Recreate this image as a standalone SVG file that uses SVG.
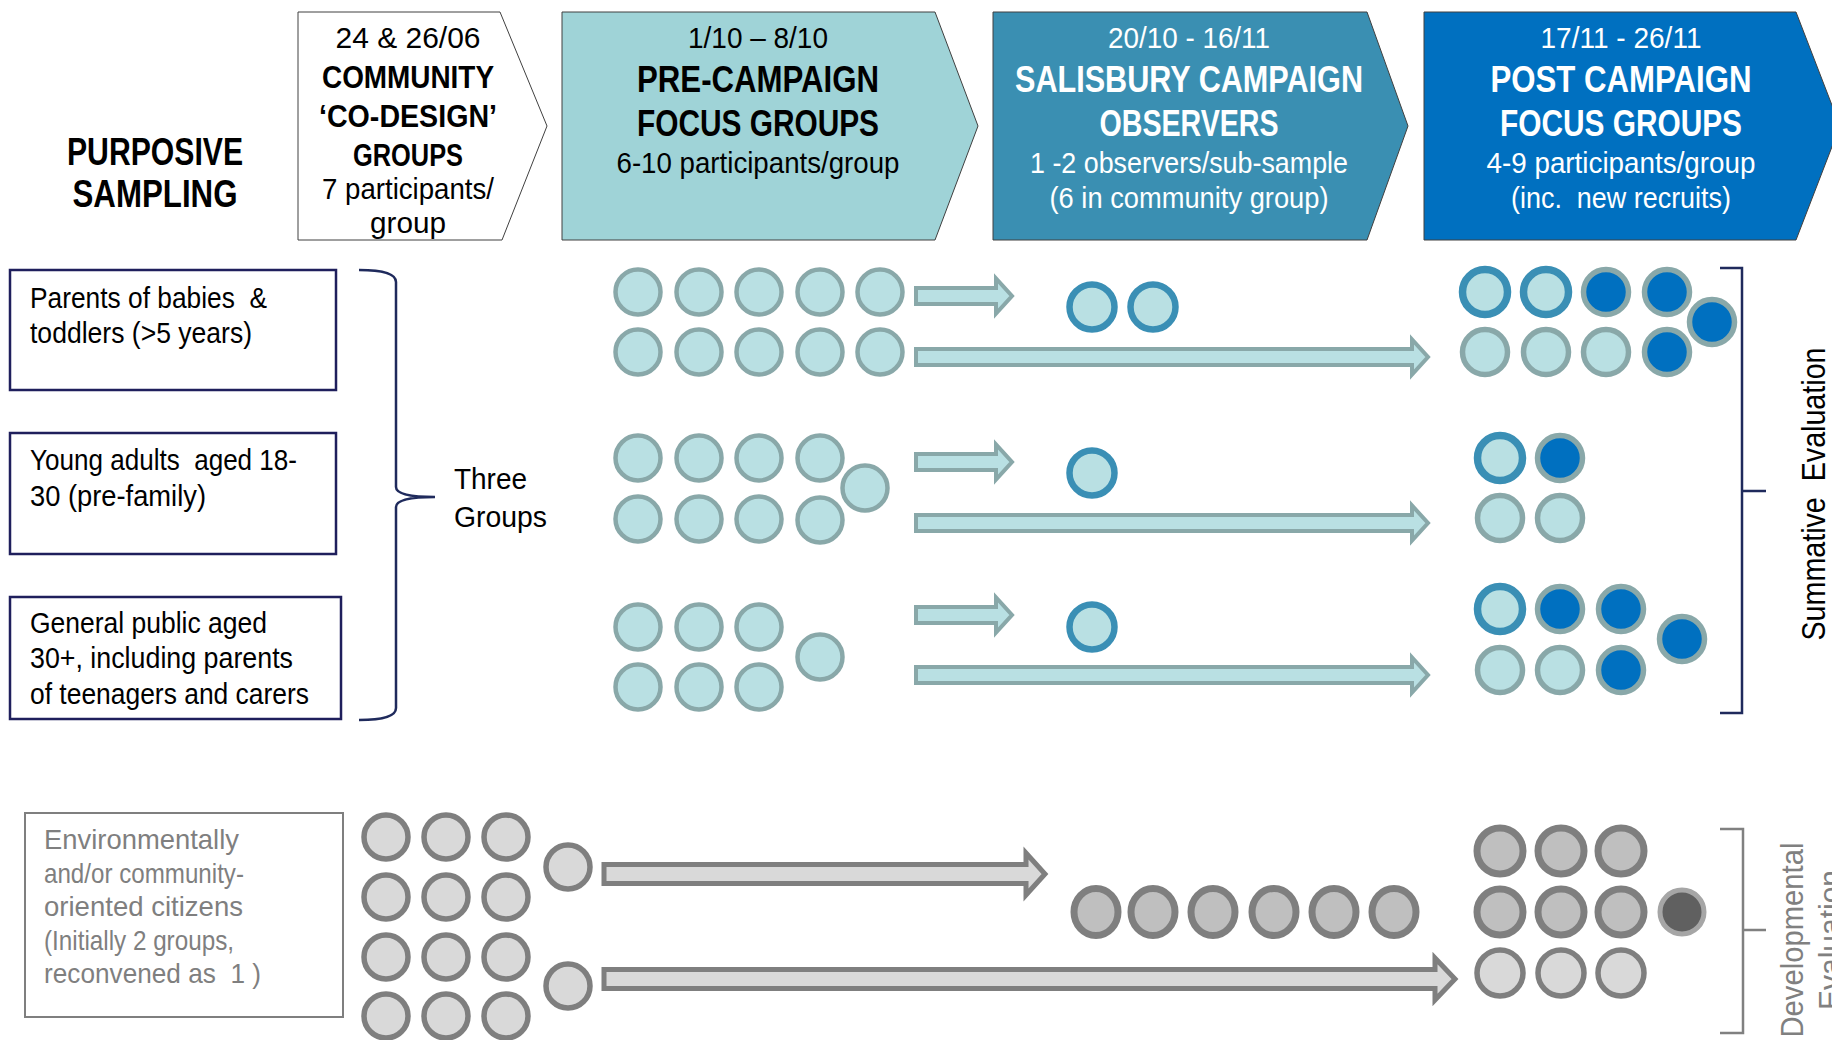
<svg xmlns="http://www.w3.org/2000/svg" width="1832" height="1040" viewBox="0 0 1832 1040" xml:space="preserve">
<style>
text{font-family:"Liberation Sans",Arial,sans-serif;white-space:pre;}
.hd{font-size:29px;text-anchor:middle;}
.hb{font-size:37px;font-weight:bold;text-anchor:middle;}
.hb1{font-size:32px;font-weight:bold;text-anchor:middle;}
.w{fill:#ffffff;}
.lt{font-size:29px;fill:#000000;}
.gt{font-size:28px;fill:#7f7f7f;}
.hdr{stroke:#404040;stroke-width:1;}
.lbox{fill:#ffffff;stroke:#1f1f5c;stroke-width:2.5;}
.gbox{fill:#ffffff;stroke:#7f7f7f;stroke-width:2;}
.pre{fill:#b9e0e3;stroke:#89a8a9;stroke-width:4.5;}
.obs{fill:#b9e0e3;stroke:#3a8fb5;stroke-width:6.5;}
.pt{fill:#b9e0e3;stroke:#3a8fb5;stroke-width:7.5;}
.pg{fill:#b9e0e3;stroke:#89a8a9;stroke-width:5.5;}
.pd{fill:#0070c0;stroke:#89a8a9;stroke-width:5.5;}
.ta{fill:#b9e0e3;stroke:#89a8a9;stroke-width:4;}
.ga{fill:#d9d9d9;stroke:#7f7f7f;stroke-width:5;}
.gc{fill:#d9d9d9;stroke:#7f7f7f;stroke-width:5.5;}
.go{fill:#bfbfbf;stroke:#7f7f7f;stroke-width:7;}
.gd{fill:#606060;stroke:#a6a6a6;stroke-width:5;}
.br{fill:none;stroke:#1f2a5c;stroke-width:2.5;}
.gb{fill:none;stroke:#808080;stroke-width:2.5;}
</style>

<g id="purposive-sampling">
<text x="155" y="165" font-size="38" font-weight="bold" text-anchor="middle" textLength="176" lengthAdjust="spacingAndGlyphs">PURPOSIVE</text>
<text x="155" y="207" font-size="38" font-weight="bold" text-anchor="middle" textLength="165" lengthAdjust="spacingAndGlyphs">SAMPLING</text>
</g>

<g id="header-codesign">
<polygon class="hdr" fill="#ffffff" points="298,12 500,12 547,126 502,240 298,240"/>
<text class="hd" x="408" y="48" textLength="145" lengthAdjust="spacingAndGlyphs">24 &amp; 26/06</text>
<text class="hb1" x="408" y="88" textLength="172" lengthAdjust="spacingAndGlyphs">COMMUNITY</text>
<text class="hb1" x="408" y="127" textLength="178" lengthAdjust="spacingAndGlyphs">‘CO-DESIGN’</text>
<text class="hb1" x="408" y="166" textLength="110" lengthAdjust="spacingAndGlyphs">GROUPS</text>
<text class="hd" x="408" y="199" textLength="172" lengthAdjust="spacingAndGlyphs">7 participants/</text>
<text class="hd" x="408" y="233" textLength="76" lengthAdjust="spacingAndGlyphs">group</text>
</g>

<g id="header-precampaign">
<polygon class="hdr" fill="#9fd3d7" points="562,12 935,12 978,126 935,240 562,240"/>
<text class="hd" x="758" y="48" textLength="140" lengthAdjust="spacingAndGlyphs">1/10 – 8/10</text>
<text class="hb" x="758" y="92" textLength="242" lengthAdjust="spacingAndGlyphs">PRE-CAMPAIGN</text>
<text class="hb" x="758" y="136" textLength="242" lengthAdjust="spacingAndGlyphs">FOCUS GROUPS</text>
<text class="hd" x="758" y="173" textLength="283" lengthAdjust="spacingAndGlyphs">6-10 participants/group</text>
</g>

<g id="header-observers">
<polygon class="hdr" fill="#3a8fb2" points="993,12 1367,12 1408,126 1367,240 993,240"/>
<text class="hd w" x="1189" y="48" textLength="162" lengthAdjust="spacingAndGlyphs">20/10 - 16/11</text>
<text class="hb w" x="1189" y="92" textLength="348" lengthAdjust="spacingAndGlyphs">SALISBURY CAMPAIGN</text>
<text class="hb w" x="1189" y="136" textLength="179" lengthAdjust="spacingAndGlyphs">OBSERVERS</text>
<text class="hd w" x="1189" y="173" textLength="318" lengthAdjust="spacingAndGlyphs">1 -2 observers/sub-sample</text>
<text class="hd w" x="1189" y="208" textLength="279" lengthAdjust="spacingAndGlyphs">(6 in community group)</text>
</g>

<g id="header-postcampaign">
<polygon class="hdr" fill="#0070c0" points="1424,12 1796,12 1840,126 1796,240 1424,240"/>
<text class="hd w" x="1621" y="48" textLength="161" lengthAdjust="spacingAndGlyphs">17/11 - 26/11</text>
<text class="hb w" x="1621" y="92" textLength="261" lengthAdjust="spacingAndGlyphs">POST CAMPAIGN</text>
<text class="hb w" x="1621" y="136" textLength="242" lengthAdjust="spacingAndGlyphs">FOCUS GROUPS</text>
<text class="hd w" x="1621" y="173" textLength="269" lengthAdjust="spacingAndGlyphs">4-9 participants/group</text>
<text class="hd w" x="1621" y="208" textLength="220" lengthAdjust="spacingAndGlyphs">(inc.  new recruits)</text>
</g>

<g id="box-parents">
<rect class="lbox" x="10" y="270" width="326" height="120"/>
<text class="lt" x="30" y="308" textLength="237" lengthAdjust="spacingAndGlyphs">Parents of babies  &amp;</text>
<text class="lt" x="30" y="343" textLength="222" lengthAdjust="spacingAndGlyphs">toddlers (&gt;5 years)</text>
</g>

<g id="box-young">
<rect class="lbox" x="10" y="433" width="326" height="121"/>
<text class="lt" x="30" y="470" textLength="267" lengthAdjust="spacingAndGlyphs">Young adults  aged 18-</text>
<text class="lt" x="30" y="506" textLength="176" lengthAdjust="spacingAndGlyphs">30 (pre-family)</text>
</g>

<g id="box-general">
<rect class="lbox" x="10" y="597" width="331" height="122"/>
<text class="lt" x="30" y="633" textLength="237" lengthAdjust="spacingAndGlyphs">General public aged</text>
<text class="lt" x="30" y="668" textLength="263" lengthAdjust="spacingAndGlyphs">30+, including parents</text>
<text class="lt" x="30" y="704" textLength="279" lengthAdjust="spacingAndGlyphs">of teenagers and carers</text>
</g>

<g id="three-groups">
<text class="lt" x="454" y="489" font-size="31" textLength="73" lengthAdjust="spacingAndGlyphs">Three</text>
<text class="lt" x="454" y="527" font-size="31" textLength="93" lengthAdjust="spacingAndGlyphs">Groups</text>
</g>

<g id="box-environmental">
<rect class="gbox" x="25" y="813" width="318" height="204"/>
<text class="gt" x="44" y="849" textLength="195" lengthAdjust="spacingAndGlyphs">Environmentally</text>
<text class="gt" x="44" y="883" textLength="200" lengthAdjust="spacingAndGlyphs">and/or community-</text>
<text class="gt" x="44" y="916" textLength="199" lengthAdjust="spacingAndGlyphs">oriented citizens</text>
<text class="gt" x="44" y="950" textLength="190" lengthAdjust="spacingAndGlyphs">(Initially 2 groups,</text>
<text class="gt" x="44" y="983" textLength="217" lengthAdjust="spacingAndGlyphs">reconvened as  1 )</text>
</g>

<g id="pre-group-1">
<circle class="pre" cx="638" cy="292" r="22.5"/><circle class="pre" cx="699" cy="292" r="22.5"/><circle class="pre" cx="759" cy="292" r="22.5"/><circle class="pre" cx="820" cy="292" r="22.5"/><circle class="pre" cx="880" cy="292" r="22.5"/>
<circle class="pre" cx="638" cy="352" r="22.5"/><circle class="pre" cx="699" cy="352" r="22.5"/><circle class="pre" cx="759" cy="352" r="22.5"/><circle class="pre" cx="820" cy="352" r="22.5"/><circle class="pre" cx="880" cy="352" r="22.5"/>
</g>
<g id="pre-group-2">
<circle class="pre" cx="638" cy="458" r="22.5"/><circle class="pre" cx="699" cy="458" r="22.5"/><circle class="pre" cx="759" cy="458" r="22.5"/><circle class="pre" cx="820" cy="458" r="22.5"/>
<circle class="pre" cx="638" cy="519" r="22.5"/><circle class="pre" cx="699" cy="519" r="22.5"/><circle class="pre" cx="759" cy="519" r="22.5"/><circle class="pre" cx="820" cy="520" r="22.5"/>
<circle class="pre" cx="865" cy="488" r="22.5"/>
</g>
<g id="pre-group-3">
<circle class="pre" cx="638" cy="627" r="22.5"/><circle class="pre" cx="699" cy="627" r="22.5"/><circle class="pre" cx="759" cy="627" r="22.5"/>
<circle class="pre" cx="638" cy="687" r="22.5"/><circle class="pre" cx="699" cy="687" r="22.5"/><circle class="pre" cx="759" cy="687" r="22.5"/>
<circle class="pre" cx="820" cy="657" r="22.5"/>
</g>

<g id="observers-1"><circle class="obs" cx="1092" cy="307" r="22.5"/><circle class="obs" cx="1153" cy="307" r="22.5"/></g>
<g id="observers-2"><circle class="obs" cx="1092" cy="473" r="22.5"/></g>
<g id="observers-3"><circle class="obs" cx="1092" cy="627" r="22.5"/></g>

<g id="post-group-1">
<circle class="pt" cx="1485" cy="292" r="22.5"/><circle class="pt" cx="1546" cy="292" r="22.5"/><circle class="pd" cx="1606" cy="292" r="22.5"/><circle class="pd" cx="1667" cy="292" r="22.5"/>
<circle class="pg" cx="1485" cy="352" r="22.5"/><circle class="pg" cx="1546" cy="352" r="22.5"/><circle class="pg" cx="1606" cy="352" r="22.5"/><circle class="pd" cx="1667" cy="352" r="22.5"/>
<circle class="pd" cx="1712" cy="322" r="22.5"/>
</g>
<g id="post-group-2">
<circle class="pt" cx="1500" cy="458" r="22.5"/><circle class="pd" cx="1560" cy="458" r="22.5"/>
<circle class="pg" cx="1500" cy="518" r="22.5"/><circle class="pg" cx="1560" cy="518" r="22.5"/>
</g>
<g id="post-group-3">
<circle class="pt" cx="1500" cy="609" r="22.5"/><circle class="pd" cx="1560" cy="609" r="22.5"/><circle class="pd" cx="1621" cy="609" r="22.5"/>
<circle class="pg" cx="1500" cy="670" r="22.5"/><circle class="pg" cx="1560" cy="670" r="22.5"/><circle class="pd" cx="1621" cy="670" r="22.5"/>
<circle class="pd" cx="1682" cy="639" r="22.5"/>
</g>

<g id="env-pre">
<circle class="gc" cx="386" cy="837" r="22"/><circle class="gc" cx="446" cy="837" r="22"/><circle class="gc" cx="506" cy="837" r="22"/>
<circle class="gc" cx="386" cy="897" r="22"/><circle class="gc" cx="446" cy="897" r="22"/><circle class="gc" cx="506" cy="897" r="22"/>
<circle class="gc" cx="386" cy="957" r="22"/><circle class="gc" cx="446" cy="957" r="22"/><circle class="gc" cx="506" cy="957" r="22"/>
<circle class="gc" cx="386" cy="1016" r="22"/><circle class="gc" cx="446" cy="1016" r="22"/><circle class="gc" cx="506" cy="1016" r="22"/>
<circle class="gc" cx="568" cy="867" r="22"/><circle class="gc" cx="568" cy="986" r="22"/>
</g>
<g id="env-observers">
<ellipse class="go" cx="1096" cy="912" rx="22" ry="23.5"/><ellipse class="go" cx="1153" cy="912" rx="22" ry="23.5"/><ellipse class="go" cx="1213" cy="912" rx="22" ry="23.5"/><ellipse class="go" cx="1274" cy="912" rx="22" ry="23.5"/><ellipse class="go" cx="1334" cy="912" rx="22" ry="23.5"/><ellipse class="go" cx="1394" cy="912" rx="22" ry="23.5"/>
</g>
<g id="env-post">
<circle class="go" cx="1500" cy="851" r="23"/><circle class="go" cx="1561" cy="851" r="23"/><circle class="go" cx="1621" cy="851" r="23"/>
<circle class="go" cx="1500" cy="912" r="23"/><circle class="go" cx="1561" cy="912" r="23"/><circle class="go" cx="1621" cy="912" r="23"/>
<circle class="gd" cx="1682" cy="912" r="22"/>
<circle class="gc" cx="1500" cy="973" r="23"/><circle class="gc" cx="1561" cy="973" r="23"/><circle class="gc" cx="1621" cy="973" r="23"/>
</g>

<g id="summative-label">
<text transform="translate(1825,494) rotate(-90)" x="0" y="0" font-size="33" text-anchor="middle" textLength="293" lengthAdjust="spacingAndGlyphs">Summative  Evaluation</text>
</g>
<g id="developmental-label" fill="#808080">
<text transform="translate(1803,940) rotate(-90)" x="0" y="0" font-size="32" fill="#808080" text-anchor="middle" textLength="195" lengthAdjust="spacingAndGlyphs">Developmental</text>
<text transform="translate(1841,940) rotate(-90)" x="0" y="0" font-size="32" fill="#808080" text-anchor="middle" textLength="140" lengthAdjust="spacingAndGlyphs">Evaluation</text>
</g>

<g id="connectors">
<path class="br" d="M359,270 Q396,270 396,282 L396,487 Q396,497 435,497 Q396,497 396,507 L396,708 Q396,720 359,720"/>
<path class="br" d="M1720,268 H1742 V713 H1720 M1742,491 H1766"/>
<path class="gb" d="M1720,829 H1743 V1033 H1720 M1743,930 H1766"/>
<polygon class="ta" points="916,288 996,288 996,278.5 1012,296 996,313.5 996,304 916,304"/>
<polygon class="ta" points="916,349 1412,349 1412,339.5 1428,357 1412,374.5 1412,365 916,365"/>
<polygon class="ta" points="916,454 996,454 996,444.5 1012,462 996,479.5 996,470 916,470"/>
<polygon class="ta" points="916,515 1412,515 1412,505.5 1428,523 1412,540.5 1412,531 916,531"/>
<polygon class="ta" points="916,607 996,607 996,597.5 1012,615 996,632.5 996,623 916,623"/>
<polygon class="ta" points="916,667 1412,667 1412,657.5 1428,675 1412,692.5 1412,683 916,683"/>
<polygon class="ga" points="604,864.5 1026,864.5 1026,853 1045,874 1026,895 1026,883.5 604,883.5"/>
<polygon class="ga" points="604,969.5 1435,969.5 1435,958 1455,979 1435,1000 1435,988.5 604,988.5"/>
</g>
</svg>
